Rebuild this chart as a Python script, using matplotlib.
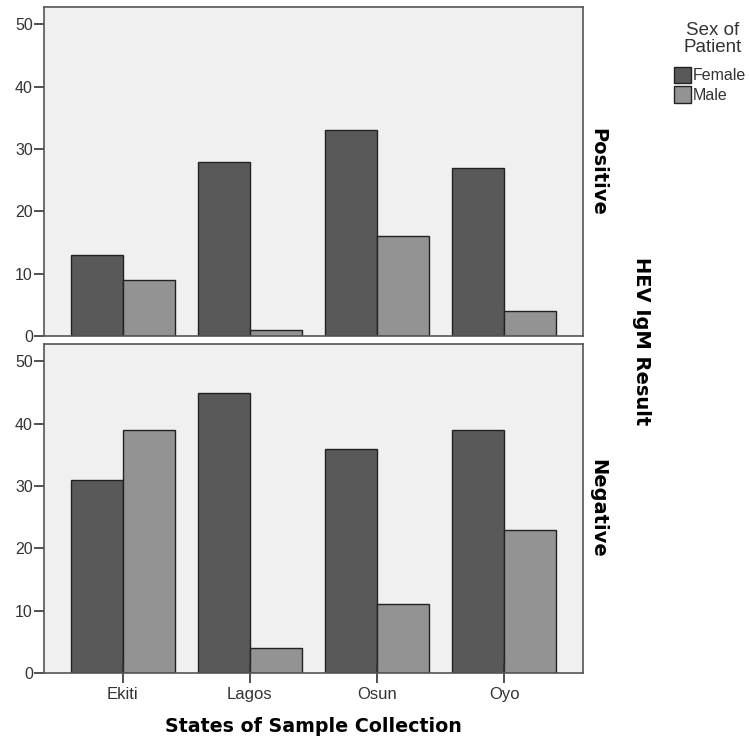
import numpy as np
import matplotlib
matplotlib.use("Agg")
import matplotlib.pyplot as plt
from matplotlib.patches import Patch

states = ["Ekiti", "Lagos", "Osun", "Oyo"]
pos_female = [13, 28, 33, 27]
pos_male = [9, 1, 16, 4]
neg_female = [31, 45, 36, 39]
neg_male = [39, 4, 11, 23]

female_col = "#595959"
male_col = "#939393"
bg = "#f0f0f0"

fig = plt.figure(figsize=(7.49, 7.42), dpi=100)
ax1 = fig.add_axes([0.0587, 0.547, 0.7195, 0.4436])
ax2 = fig.add_axes([0.0587, 0.093, 0.7195, 0.4434])

x = np.arange(len(states))
w = 0.41

for ax, fem, mal, lab in [(ax1, pos_female, pos_male, "Positive"),
                          (ax2, neg_female, neg_male, "Negative")]:
    ax.set_facecolor(bg)
    ax.bar(x - w / 2, fem, w, color=female_col, edgecolor="#222222", linewidth=1)
    ax.bar(x + w / 2, mal, w, color=male_col, edgecolor="#222222", linewidth=1)
    ax.set_xlim(-0.62, 3.62)
    ax.set_ylim(0, 52.8)
    ax.set_yticks([0, 10, 20, 30, 40, 50])
    ax.tick_params(axis="y", length=7, width=1.2, color="#333333",
                   labelsize=11.5, labelcolor="#333333", pad=1)
    for s in ax.spines.values():
        s.set_color("#555555")
        s.set_linewidth(1.2)
    ax.text(1.028, 0.5, lab, transform=ax.transAxes, rotation=-90,
            ha="center", va="center", fontsize=14, fontweight="bold",
            family="DejaVu Sans")
    for t in ax.get_yticklabels():
        t.set_family("Liberation Sans")

ax1.set_xticks([])
ax2.set_xticks(x)
ax2.set_xticklabels(states, family="Liberation Sans", fontsize=12, color="#333333")
ax2.tick_params(axis="x", direction="inout", length=14, width=1.2,
                color="#333333", pad=3)
ax2.set_xlabel("States of Sample Collection", fontsize=13.7, fontweight="bold",
               family="DejaVu Sans", labelpad=11)

fig.text(0.856, 0.5404, "HEV IgM Result", rotation=-90, ha="center", va="center",
         fontsize=14, fontweight="bold", family="DejaVu Sans")

fig.text(0.952, 0.948, "Sex of\nPatient", ha="center", va="center",
         multialignment="center", family="Liberation Sans", fontsize=13.5,
         color="#333333", linespacing=1.0)

handles = [Patch(facecolor=female_col, edgecolor="#222222", label="Female"),
           Patch(facecolor=male_col, edgecolor="#222222", label="Male")]
leg = fig.legend(handles=handles, loc="upper left",
                 bbox_to_anchor=(0.900, 0.910), frameon=False,
                 prop={"family": "Liberation Sans", "size": 11.5},
                 handlelength=1.05, handleheight=1.2, handletextpad=0.1,
                 labelspacing=0.18, borderpad=0, borderaxespad=0)
for t in leg.get_texts():
    t.set_color("#333333")

fig.savefig("out.png", dpi=100, facecolor="white")
